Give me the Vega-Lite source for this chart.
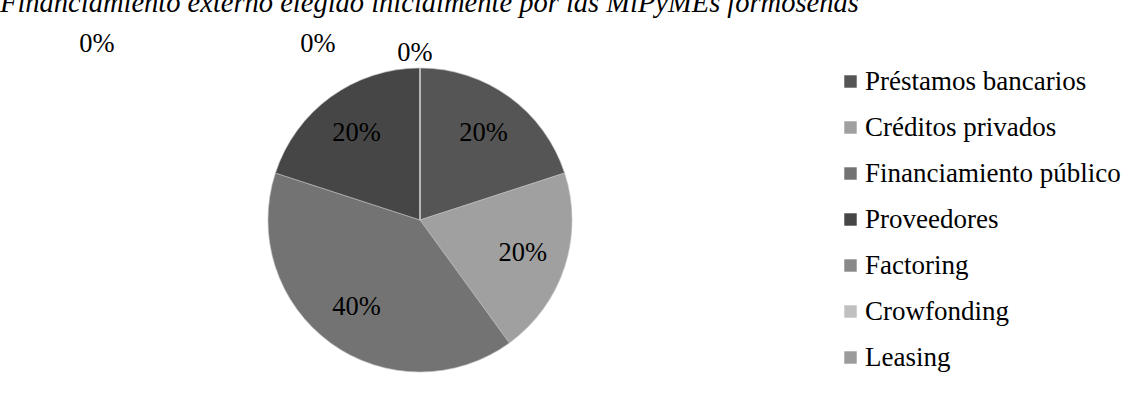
{
  "$schema": "https://vega.github.io/schema/vega-lite/v6.json",
  "autosize": "none",
  "padding": {"left": 0, "top": 20, "right": 291, "bottom": 0},
  "width": 840,
  "height": 400,
  "background": "white",
  "title": {
    "text": "Financiamiento externo elegido inicialmente por las MiPyMEs formoseñas",
    "anchor": "start",
    "frame": "group",
    "font": "'Liberation Serif', 'Times New Roman', serif",
    "fontStyle": "italic",
    "fontWeight": "normal",
    "fontSize": 28.5,
    "color": "#000000",
    "offset": 0,
    "dy": -3
  },
  "data": {
    "values": [
      {"fuente": "Préstamos bancarios", "pct": 0.2, "orden": 1},
      {"fuente": "Créditos privados", "pct": 0.2, "orden": 2},
      {"fuente": "Financiamiento público", "pct": 0.4, "orden": 3},
      {"fuente": "Proveedores", "pct": 0.2, "orden": 4},
      {"fuente": "Factoring", "pct": 0, "orden": 5},
      {"fuente": "Crowfonding", "pct": 0, "orden": 6},
      {"fuente": "Leasing", "pct": 0, "orden": 7}
    ]
  },
  "encoding": {
    "theta": {"field": "pct", "type": "quantitative", "stack": true},
    "order": {"field": "orden", "type": "quantitative"}
  },
  "layer": [
    {
      "mark": {"type": "arc", "outerRadius": 152, "stroke": "#bfbfbf", "strokeWidth": 0.6},
      "encoding": {
        "color": {
          "field": "fuente",
          "type": "nominal",
          "scale": {
            "domain": ["Préstamos bancarios", "Créditos privados", "Financiamiento público", "Proveedores", "Factoring", "Crowfonding", "Leasing"],
            "range": ["#555555", "#a0a0a0", "#737373", "#464646", "#898989", "#c0c0c0", "#9b9b9b"]
          },
          "legend": {
            "title": null,
            "orient": "none",
            "legendX": 837,
            "legendY": 48,
            "padding": 0,
            "symbolType": "square",
            "symbolSize": 155,
            "symbolStrokeWidth": 0,
            "labelFont": "'Liberation Serif', 'Times New Roman', serif",
            "labelFontSize": 27,
            "labelColor": "#000000",
            "labelOffset": 1,
            "labelLimit": 400,
            "rowPadding": 18
          }
        }
      }
    },
    {
      "transform": [{"filter": "datum.pct > 0"}],
      "mark": {"type": "text", "radius": 108, "fontSize": 26.5, "color": "#000000"},
      "encoding": {"text": {"field": "pct", "type": "quantitative", "format": ".0%"}}
    },
    {
      "transform": [{"filter": "datum.fuente == 'Factoring'"}],
      "mark": {"type": "text", "radius": 167, "dx": -5, "fontSize": 26.5, "color": "#000000"},
      "encoding": {"text": {"field": "pct", "type": "quantitative", "format": ".0%"}}
    },
    {
      "transform": [{"filter": "datum.fuente == 'Crowfonding'"}],
      "mark": {"type": "text", "radius": 167, "dx": -102, "dy": -9, "fontSize": 26.5, "color": "#000000"},
      "encoding": {"text": {"field": "pct", "type": "quantitative", "format": ".0%"}}
    },
    {
      "transform": [{"filter": "datum.fuente == 'Leasing'"}],
      "mark": {"type": "text", "radius": 167, "dx": -323, "dy": -9, "fontSize": 26.5, "color": "#000000"},
      "encoding": {"text": {"field": "pct", "type": "quantitative", "format": ".0%"}}
    }
  ],
  "config": {
    "font": "'Liberation Serif', 'Times New Roman', serif",
    "text": {"font": "'Liberation Serif', 'Times New Roman', serif"},
    "view": {"stroke": null}
  }
}
